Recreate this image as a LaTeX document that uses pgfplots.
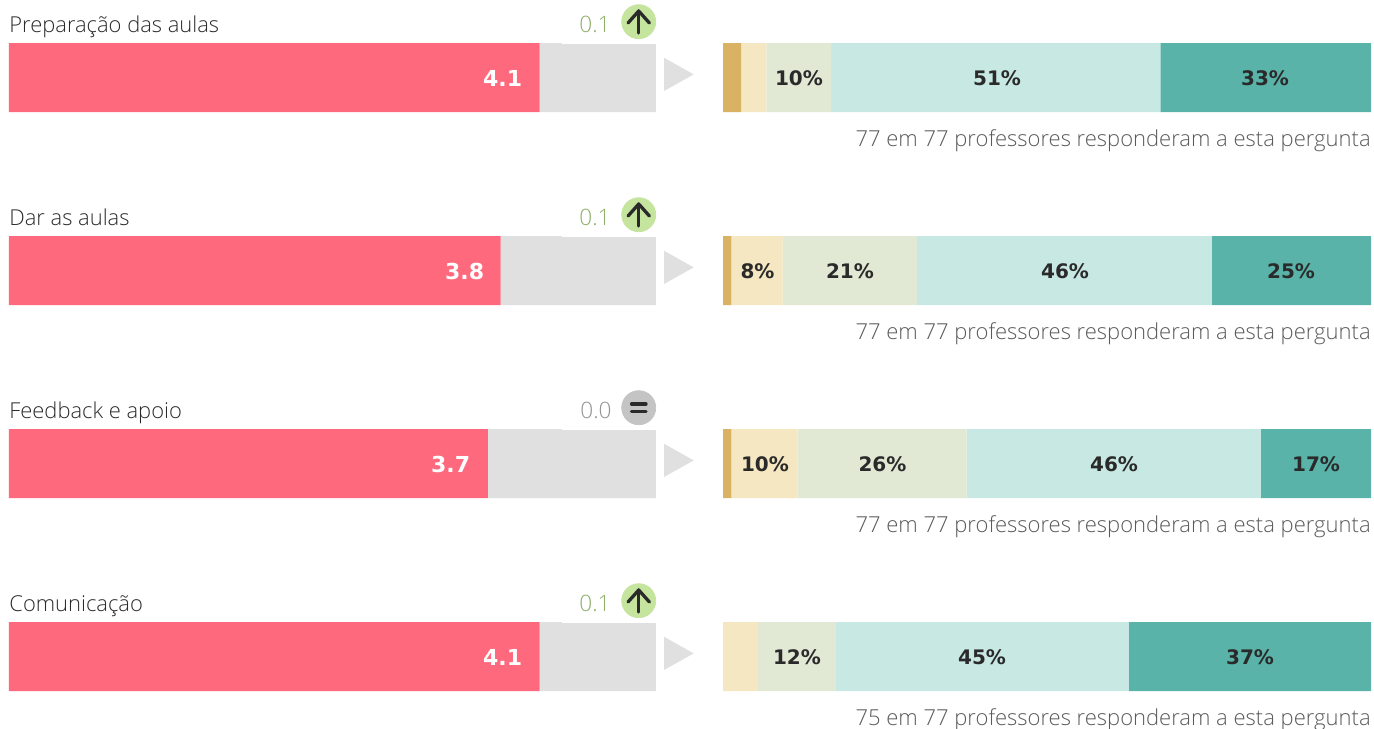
\documentclass[border=0pt]{standalone}
\usepackage{pgfplots}
\pgfplotsset{compat=1.18}
\usepackage{fontspec}
\setmainfont{Open Sans Light}
\newfontfamily\valfont{DejaVu Sans}[BoldFont=DejaVu Sans Bold]
\definecolor{cred}{HTML}{FF697D}
\definecolor{cgray}{HTML}{E0E0E0}
\definecolor{s1}{HTML}{D9B263}
\definecolor{s2}{HTML}{F5E7C1}
\definecolor{s3}{HTML}{E1E8D4}
\definecolor{s4}{HTML}{C8E9E3}
\definecolor{s5}{HTML}{59B3A9}
\definecolor{ctext}{HTML}{2A2A2A}
\definecolor{ccap}{HTML}{5A5A5A}
\definecolor{cgreen}{HTML}{8DB068}
\definecolor{ccirc}{HTML}{C5E59F}
\definecolor{cgc}{HTML}{C4C4C4}
\definecolor{cgt}{HTML}{939393}
\pgfplotsset{
  rowaxis/.style={scale only axis, hide axis, clip=false, height=364pt,
    y dir=reverse, ymin=-0.40155, ymax=3.37047, anchor=south west,
    xbar stacked, bar width=0.3575, bar shift=0pt},
  pixaxis/.style={scale only axis, hide axis, clip=false, at={(0pt,-364pt)}, anchor=south west,
    width=687pt, height=364pt, xmin=0, xmax=1374, ymin=0, ymax=728, y dir=reverse},
}
\tikzset{
  lab/.style={font=\fontsize{10.96pt}{13pt}\selectfont, text=ctext, anchor=base west, inner sep=0pt},
  capt/.style={font=\fontsize{11pt}{13pt}\selectfont, text=ccap, anchor=base east, inner sep=0pt},
  delt/.style={font=\fontsize{11.3pt}{13pt}\selectfont, anchor=base east, inner sep=0pt},
  sv/.style={font=\valfont\bfseries\fontsize{10pt}{12pt}\selectfont, text=ctext, anchor=base, inner sep=0pt},
  wv/.style={font=\valfont\bfseries\fontsize{11pt}{13pt}\selectfont, text=white, anchor=base east, inner sep=0pt},
}
\begin{document}
\begin{tikzpicture}
\path[use as bounding box] (0,0) rectangle (687pt,-364pt);
% Scores (scale 0-5)
\begin{axis}[rowaxis, at={(4.5pt,-364pt)}, width=323.5pt, xmin=0, xmax=5]
\addplot[fill=cred, draw=none] coordinates {(4.1,0) (3.8,1) (3.7,2) (4.1,3)};
\addplot[fill=cgray, draw=none] coordinates {(0.9,0) (1.2,1) (1.3,2) (0.9,3)};
\end{axis}
% Distribution (percent)
\begin{axis}[rowaxis, at={(361.5pt,-364pt)}, width=324pt, xmin=0, xmax=100]
\addplot[fill=s1, draw=none] coordinates {(2.8,0) (1.3,1) (1.3,2) (0,3)};
\addplot[fill=s2, draw=none] coordinates {(3.9,0) (7.9,1) (10.2,2) (5.4,3)};
\addplot[fill=s3, draw=none] coordinates {(10.0,0) (20.7,1) (26.1,2) (12.0,3)};
\addplot[fill=s4, draw=none] coordinates {(50.8,0) (45.5,1) (45.4,2) (45.2,3)};
\addplot[fill=s5, draw=none] coordinates {(32.5,0) (24.6,1) (17.0,2) (37.4,3)};
\end{axis}
% Delta badges
\begin{axis}[pixaxis]
\addplot[only marks, mark=*, mark size=8.5pt, color=ccirc] coordinates {(638.7,21.7)(638.7,214.7)(638.7,600.7)};
\addplot[only marks, mark=*, mark size=8.5pt, color=cgc] coordinates {(638.7,407.7)};
\end{axis}
% Annotations in picture pixels
\begin{axis}[pixaxis]
% white notch over the top of the grey part of each track
\addplot[fill=white, draw=none] coordinates {(562,42.5)(656.5,42.5)(656.5,44)(562,44)} -- cycle;
\addplot[fill=white, draw=none] coordinates {(562,235.5)(656.5,235.5)(656.5,237)(562,237)} -- cycle;
\addplot[fill=white, draw=none] coordinates {(562,428.5)(656.5,428.5)(656.5,430)(562,430)} -- cycle;
\addplot[fill=white, draw=none] coordinates {(562,621.5)(656.5,621.5)(656.5,623)(562,623)} -- cycle;
% triangles
\addplot[fill=cgray, draw=none] coordinates {(664,57.7)(693.7,74.4)(664,91)} -- cycle;
\addplot[fill=cgray, draw=none] coordinates {(664,250.7)(693.7,267.4)(664,284)} -- cycle;
\addplot[fill=cgray, draw=none] coordinates {(664,443.7)(693.7,460.4)(664,477)} -- cycle;
\addplot[fill=cgray, draw=none] coordinates {(664,636.7)(693.7,653.4)(664,670)} -- cycle;
% arrows and equals signs
\addplot[ctext, no marks, line width=1.65pt, line cap=round, line join=round] coordinates {(638.7,11)(638.7,33)};
\addplot[ctext, no marks, line width=1.65pt, line cap=round, line join=round] coordinates {(628,23)(638.7,11)(649.4,23)};
\addplot[ctext, no marks, line width=1.65pt, line cap=round, line join=round] coordinates {(638.7,204)(638.7,226)};
\addplot[ctext, no marks, line width=1.65pt, line cap=round, line join=round] coordinates {(628,216)(638.7,204)(649.4,216)};
\addplot[ctext, no marks, line width=1.65pt, line cap=round, line join=round] coordinates {(638.7,590)(638.7,612)};
\addplot[ctext, no marks, line width=1.65pt, line cap=round, line join=round] coordinates {(628,602)(638.7,590)(649.4,602)};
\addplot[ctext, no marks, line width=1.6pt, line cap=round] coordinates {(631.5,404)(646,404)};
\addplot[ctext, no marks, line width=1.6pt, line cap=round] coordinates {(631.5,411.3)(646,411.3)};
% labels
\node[lab] at (axis cs:9,32) {Preparação das aulas};
\node[lab] at (axis cs:9,225) {Dar as aulas};
\node[lab] at (axis cs:9,418) {Feedback e apoio};
\node[lab] at (axis cs:9,611) {Comunicação};
\node[delt,text=cgreen] at (axis cs:611,32) {0.1};
\node[delt,text=cgreen] at (axis cs:611,225) {0.1};
\node[delt,text=cgt] at (axis cs:612,418) {0.0};
\node[delt,text=cgreen] at (axis cs:611,611) {0.1};
\node[wv] at (axis cs:522.5,86.5) {4.1};
\node[wv] at (axis cs:484.5,279.5) {3.8};
\node[wv] at (axis cs:470.5,472.5) {3.7};
\node[wv] at (axis cs:522.5,665.5) {4.1};
\node[sv] at (axis cs:799,85.5) {10\%};
\node[sv] at (axis cs:997,85.5) {51\%};
\node[sv] at (axis cs:1265,85.5) {33\%};
\node[sv] at (axis cs:757.5,278.5) {8\%};
\node[sv] at (axis cs:850,278.5) {21\%};
\node[sv] at (axis cs:1065,278.5) {46\%};
\node[sv] at (axis cs:1291,278.5) {25\%};
\node[sv] at (axis cs:765,471.5) {10\%};
\node[sv] at (axis cs:882.5,471.5) {26\%};
\node[sv] at (axis cs:1114,471.5) {46\%};
\node[sv] at (axis cs:1316,471.5) {17\%};
\node[sv] at (axis cs:797,664.5) {12\%};
\node[sv] at (axis cs:982,664.5) {45\%};
\node[sv] at (axis cs:1250,664.5) {37\%};
\node[capt] at (axis cs:1371,146) {77 em 77 professores responderam a esta pergunta};
\node[capt] at (axis cs:1371,339) {77 em 77 professores responderam a esta pergunta};
\node[capt] at (axis cs:1371,532) {77 em 77 professores responderam a esta pergunta};
\node[capt] at (axis cs:1371,725) {75 em 77 professores responderam a esta pergunta};
\end{axis}
\end{tikzpicture}
\end{document}
